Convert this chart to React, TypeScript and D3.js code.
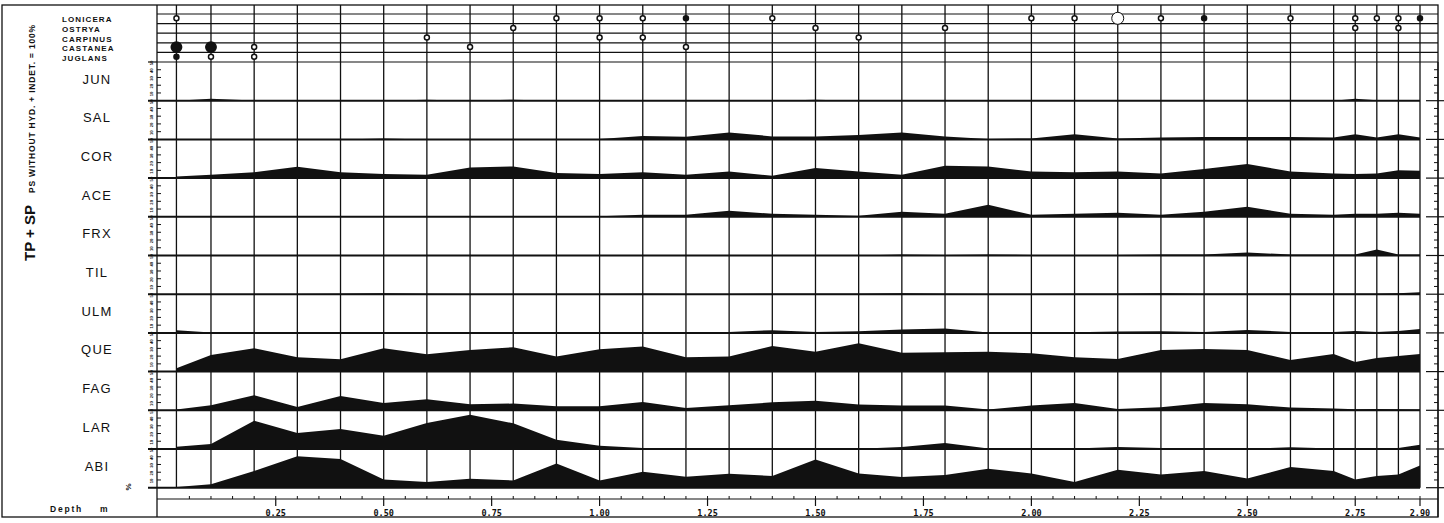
import React from "react";
import * as d3 from "d3";

const W = 1444;
const H = 523;

// sample depths (m)
const DEPTHS = [0.02, 0.1, 0.2, 0.3, 0.4, 0.5, 0.6, 0.7, 0.8, 0.9, 1.0, 1.1, 1.2, 1.3, 1.4, 1.5, 1.6, 1.7, 1.8, 1.9, 2.0, 2.1, 2.2, 2.3, 2.4, 2.5, 2.6, 2.7, 2.75, 2.8, 2.85, 2.9];

const TAXA = ["JUN", "SAL", "COR", "ACE", "FRX", "TIL", "ULM", "QUE", "FAG", "LAR", "ABI"];

// percentages, each panel runs 0 - 50
const JUN = [0, 2.6, 0.4, 0, 0, 0, 1.3, 0, 1.3, 0, 0, 0, 0.6, 0, 0, 1.3, 0, 0, 0, 0, 0, 0, 0, 0, 0, 0.6, 0, 0, 2.6, 0.6, 0, 0];
const SAL = [0, 0, 0, 0, 0, 1.3, 0, 0, 0, 0, 0.6, 4.3, 3.5, 9, 3.9, 3.9, 5.8, 9, 3.9, 0.6, 1.3, 6.5, 1.3, 2.6, 3.2, 3.2, 3.2, 2.6, 6.5, 2.6, 6.5, 2.6];
const COR = [2.2, 4.3, 7.4, 14.6, 7.4, 5.2, 4.3, 13.8, 15.1, 6.5, 5.2, 7.4, 4.3, 8.6, 3, 12.9, 8.6, 4.3, 15.9, 15.1, 8.6, 7.4, 8.6, 6.1, 11.6, 18.1, 8.6, 6.1, 5.2, 6.1, 10.3, 9.4];
const ACE = [0, 0, 0, 0, 0, 0, 0, 0, 0, 0, 0.6, 2.6, 2.6, 7.8, 3.9, 2.6, 1.3, 6.5, 3.9, 15.5, 2.6, 3.9, 5.2, 2.6, 6.5, 12.9, 3.9, 2.6, 3.9, 3.9, 5.2, 3.9];
const FRX = [0, 0, 0, 0, 0, 0, 0, 0, 0, 0, 0, 0, 0, 0, 0, 0, 0, 1.3, 0.6, 1.3, 0.6, 0.6, 0.6, 1.3, 1.3, 3.9, 1.3, 1.3, 1.3, 7.8, 1.3, 1.3];
const TIL = [0.4, 0.4, 0.4, 0.4, 0.6, 1.3, 0.6, 0.4, 0.4, 0.4, 0.4, 0.6, 0.4, 0.4, 0.6, 0.6, 0.6, 1.3, 0.6, 0.4, 0.4, 0.6, 0.6, 1.3, 0.6, 0.6, 0.6, 0.6, 0.6, 0.6, 1.3, 2.6];
const ULM = [3.5, 0.6, 1.3, 0.6, 0.6, 0.6, 0.6, 0.6, 0.6, 0.6, 0.6, 0.6, 0.6, 1.3, 3.5, 1.3, 2.2, 4.3, 5.6, 0.4, 0, 0.9, 1.7, 2.2, 1.3, 3.9, 1.3, 1.3, 2.6, 1.3, 2.6, 5.2];
const QUE = [4.3, 21.6, 30.1, 18.5, 15.9, 30.1, 22.3, 28, 31.4, 19.4, 28.8, 32.3, 18.5, 19.4, 33.2, 25.8, 36.5, 24.5, 24.9, 25.8, 23.6, 18.5, 16.4, 28, 29.2, 27.9, 15, 22.7, 12.4, 17.5, 20.1, 22.7];
const FAG = [0.9, 6.5, 19.4, 4.3, 18.5, 9.4, 14.2, 7.8, 8.7, 5.2, 5.2, 10.7, 3, 6.5, 10.3, 12.5, 7.4, 6.1, 6.1, 0.9, 6.1, 9.4, 1.7, 3.9, 9.4, 7.8, 3.5, 2.2, 1.3, 1.7, 1.3, 0.9];
const LAR = [3, 6.5, 36.5, 20.7, 25.8, 17.2, 33.6, 44.3, 33.2, 12, 4.3, 1.3, 0.9, 0.9, 0.4, 1.3, 0.4, 2.6, 7.8, 0.6, 0.6, 0.6, 2.6, 1.3, 0, 0, 2.2, 0.6, 0.6, 0.6, 1.3, 5.6];
const ABI = [0.9, 4.3, 21.6, 40.7, 37.1, 10.7, 7.4, 11.6, 9.4, 31.4, 9.4, 20.7, 14.2, 18.1, 15.1, 36.5, 18.5, 13.8, 16.4, 24.5, 18.5, 7.4, 23.3, 17.2, 21.6, 12, 26.7, 21.6, 10.7, 15.1, 17.2, 28.8];

const SERIES: Record<string, number[]> = { JUN, SAL, COR, ACE, FRX, TIL, ULM, QUE, FAG, LAR, ABI };

// rare taxa, marker codes: 1 small ring, 2 small dot, 4 large dot, 6 large ring
const RARE_TAXA = ["LONICERA", "OSTRYA", "CARPINUS", "CASTANEA", "JUGLANS"];
const LONICERA = [1, 0, 0, 0, 0, 0, 0, 0, 0, 1, 1, 1, 2, 0, 1, 0, 0, 0, 0, 0, 1, 1, 6, 1, 2, 0, 1, 0, 1, 1, 1, 2];
const OSTRYA = [0, 0, 0, 0, 0, 0, 0, 0, 1, 0, 0, 0, 0, 0, 0, 1, 0, 0, 1, 0, 0, 0, 0, 0, 0, 0, 0, 0, 1, 0, 1, 0];
const CARPINUS = [0, 0, 0, 0, 0, 0, 1, 0, 0, 0, 1, 1, 0, 0, 0, 0, 1, 0, 0, 0, 0, 0, 0, 0, 0, 0, 0, 0, 0, 0, 0, 0];
const CASTANEA = [4, 4, 1, 0, 0, 0, 0, 1, 0, 0, 0, 0, 1, 0, 0, 0, 0, 0, 0, 0, 0, 0, 0, 0, 0, 0, 0, 0, 0, 0, 0, 0];
const JUGLANS = [2, 1, 1, 0, 0, 0, 0, 0, 0, 0, 0, 0, 0, 0, 0, 0, 0, 0, 0, 0, 0, 0, 0, 0, 0, 0, 0, 0, 0, 0, 0, 0];
const RARE: Record<string, number[]> = { LONICERA, OSTRYA, CARPINUS, CASTANEA, JUGLANS };

const DEPTH_LABELS = [0.25, 0.5, 0.75, 1.0, 1.25, 1.5, 1.75, 2.0, 2.25, 2.5, 2.75, 2.9];
const PCT_TICKS = [10, 20, 30, 40, 50];

const INK = "#111";
const SANS = "Liberation Sans, Arial, sans-serif";

export default function App() {
  const axisX = 157;
  const right = 1438;
  const x = d3.scaleLinear().domain([0, 2.9]).range([167.8, 1420]);
  const band = d3.scaleBand().domain(TAXA).range([62, 487.7]);
  const ph = band.bandwidth();
  const y = d3.scaleLinear().domain([0, 50]).range([0, ph]);
  const rareBand = d3.scaleBand().domain(RARE_TAXA).range([14, 62]);
  const markerR = d3.scaleThreshold<number, number>().domain([3, 5]).range([2.5, 5.2, 6]);

  const minorTicks = d3.range(1, 59).map((i) => +(i * 0.05).toFixed(2));
  const bottomY = 499;

  return (
    <svg width={W} height={H} style={{ position: "absolute", left: 0, top: 0, background: "#fff" }}>
      <rect x={0} y={0} width={W} height={H} fill="#fff" />
      {/* outer frame */}
      <rect x={2} y={5} width={right - 2} height={512} fill="none" stroke={INK} strokeWidth={1.3} />
      <line x1={axisX} x2={axisX} y1={5} y2={517} stroke={INK} strokeWidth={1.3} />

      {/* vertical title */}
      <text transform="translate(35,261) rotate(-90)" fill={INK} fontFamily={SANS} fontWeight="bold">
        <tspan fontSize={15}>TP + SP</tspan>
        <tspan fontSize={8.5} dx={12} letterSpacing={0.8}>PS WITHOUT HYD. + INDET. = 100%</tspan>
      </text>

      {/* rare taxa strip */}
      {[14, ...RARE_TAXA.map((t) => (rareBand(t) as number) + rareBand.bandwidth())].map((yy, i) => (
        <line key={"rl" + i} x1={axisX} x2={right} y1={yy} y2={yy} stroke={INK} strokeWidth={1.2} />
      ))}
      {RARE_TAXA.map((t) => (
        <text key={"rt" + t} x={62} y={(rareBand(t) as number) + rareBand.bandwidth() / 2 + 1} dominantBaseline="central"
          fontFamily={SANS} fontWeight="bold" fontSize={8} letterSpacing={1.1} fill={INK}>
          {t}
        </text>
      ))}

      {/* sample lines */}
      {DEPTHS.map((d) => (
        <line key={"s" + d} x1={x(d)} x2={x(d)} y1={5} y2={band.range()[1]} stroke={INK} strokeWidth={1.3} />
      ))}

      {RARE_TAXA.map((t) =>
        RARE[t].map((v, i) => {
          if (!v) return null;
          const cy = (rareBand(t) as number) + rareBand.bandwidth() / 2 - 0.5;
          const filled = v === 2 || v === 4;
          return (
            <circle key={t + i} cx={x(DEPTHS[i])} cy={cy} r={markerR(v)} fill={filled ? INK : "#fff"}
              stroke={INK} strokeWidth={v === 6 ? 1 : 1.5} />
          );
        })
      )}

      {/* pollen panels */}
      {TAXA.map((t) => {
        const top = band(t) as number;
        const base = top + ph;
        const area = d3.area<number>()
          .x((_, i) => x(DEPTHS[i]))
          .y0(base)
          .y1((v) => base - y(v));
        return (
          <g key={t}>
            <path d={area(SERIES[t]) as string} fill={INK} />
            <line x1={148} x2={1420} y1={base} y2={base} stroke={INK} strokeWidth={2} />
            <line x1={1426} x2={W} y1={base} y2={base} stroke={INK} strokeWidth={1.2} />
            {PCT_TICKS.slice(0, 4).map((p) => (
              <g key={p}>
                <line x1={axisX} x2={axisX + 4} y1={base - y(p)} y2={base - y(p)} stroke={INK} strokeWidth={1} />
                <line x1={right - 4} x2={right} y1={base - y(p)} y2={base - y(p)} stroke={INK} strokeWidth={1} />
              </g>
            ))}
            {PCT_TICKS.map((p) => (
              <text key={"l" + p} transform={`translate(153,${base - y(p) + 1}) rotate(-90)`} textAnchor="middle"
                fontFamily={SANS} fontWeight="bold" fontSize={4.2} fill={INK}>
                {p}
              </text>
            ))}
            <text x={97} y={top + 17} textAnchor="middle" dominantBaseline="central"
              fontFamily={SANS} fontSize={13} letterSpacing={1.2} fill={INK}>
              {t}
            </text>
          </g>
        );
      })}
      <line x1={148} x2={axisX} y1={62} y2={62} stroke={INK} strokeWidth={1.2} />
      <line x1={right} x2={right} y1={62} y2={517} stroke={INK} strokeWidth={1.2} />

      <text transform="translate(131,487) rotate(-90)" textAnchor="middle" fontFamily={SANS}
        fontWeight="bold" fontSize={8} fill={INK}>%</text>

      {/* depth axis */}
      <line x1={axisX} x2={right} y1={bottomY} y2={bottomY} stroke={INK} strokeWidth={1.2} />
      {minorTicks.map((d) => (
        <line key={"m" + d} x1={x(d)} x2={x(d)} y1={bottomY - 3} y2={bottomY} stroke={INK} strokeWidth={1} />
      ))}
      {DEPTH_LABELS.map((d) => (
        <g key={"d" + d}>
          <line x1={x(d)} x2={x(d)} y1={bottomY} y2={bottomY + 7} stroke={INK} strokeWidth={1.2} />
          <text x={x(d)} y={516} textAnchor="middle" fontFamily="DejaVu Sans Mono, monospace" fontWeight="bold"
            fontSize={8.5} fill={INK}>
            {d.toFixed(2)}
          </text>
        </g>
      ))}
      <text x={50} y={512} fontFamily={SANS} fontWeight="bold" fontSize={8.5}
        letterSpacing={1.8} fill={INK}>Depth</text>
      <text x={100} y={512} fontFamily={SANS} fontWeight="bold" fontSize={8.5}
        fill={INK}>m</text>
    </svg>
  );
}
